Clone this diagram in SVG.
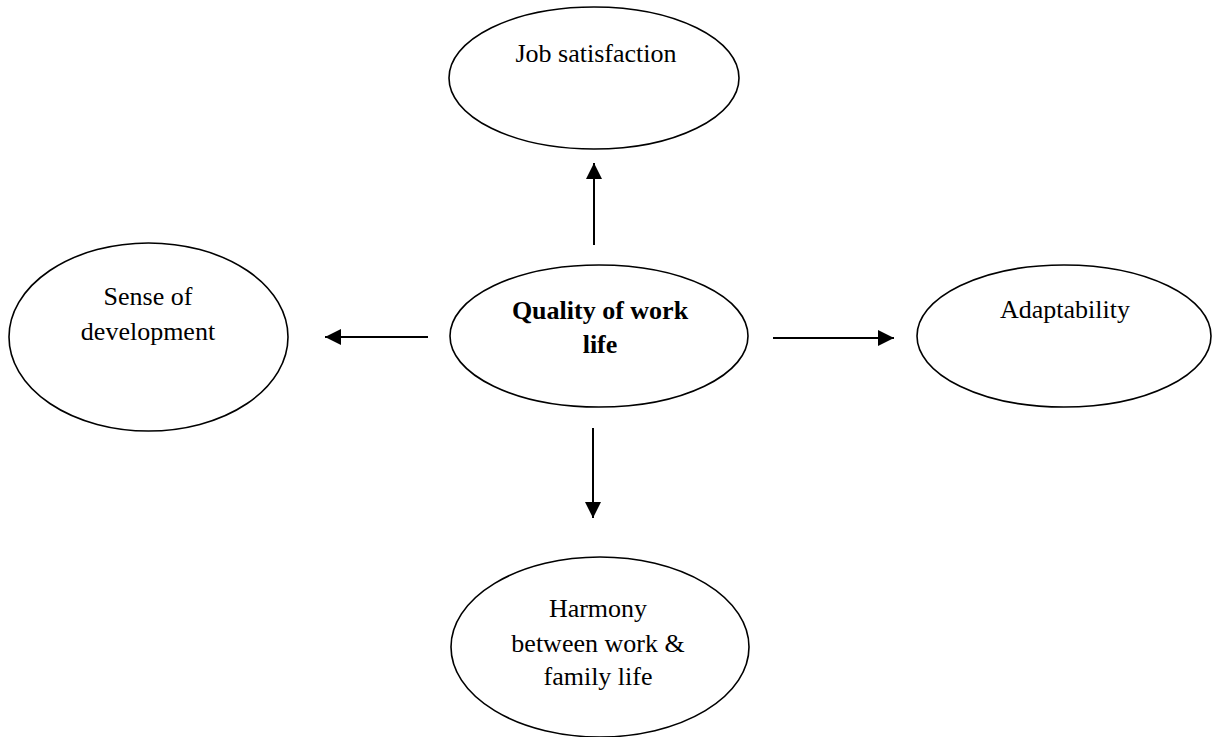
<svg xmlns="http://www.w3.org/2000/svg" width="1212" height="737" viewBox="0 0 1212 737">
<style>
.node ellipse{fill:#fff;stroke:#000;stroke-width:1.6}
text{font-family:"Liberation Serif","Times New Roman",serif;font-size:26px;fill:#000;text-anchor:middle}
.b{font-weight:bold}
.conn line{stroke:#000;stroke-width:2}
</style>
<defs>
<marker id="ah" viewBox="0 0 10 10" refX="10" refY="5" markerUnits="userSpaceOnUse" markerWidth="17" markerHeight="16" orient="auto">
<path d="M0,0 L10,5 L0,10 Z" fill="#000"/>
</marker>
</defs>
<rect width="1212" height="737" fill="#fff"/>
<g id="job-satisfaction" class="node">
<ellipse cx="594" cy="78" rx="145" ry="71"/>
<text x="596" y="62">Job satisfaction</text>
</g>
<g id="sense-of-development" class="node">
<ellipse cx="148.5" cy="337" rx="139.5" ry="94"/>
<text x="148" y="305">Sense of</text>
<text x="148" y="340">development</text>
</g>
<g id="quality-of-work-life" class="node">
<ellipse cx="599" cy="336" rx="149" ry="71"/>
<text class="b" x="600" y="319">Quality of work</text>
<text class="b" x="600" y="353">life</text>
</g>
<g id="adaptability" class="node">
<ellipse cx="1064" cy="336" rx="147" ry="71"/>
<text x="1065" y="318">Adaptability</text>
</g>
<g id="harmony" class="node">
<ellipse cx="600" cy="647" rx="149" ry="90"/>
<text x="598" y="617">Harmony</text>
<text x="598" y="652">between work &amp;</text>
<text x="598" y="685">family life</text>
</g>
<g id="connectors" class="conn">
<line x1="594" y1="245" x2="594" y2="163" marker-end="url(#ah)"/>
<line x1="428" y1="337" x2="325" y2="337" marker-end="url(#ah)"/>
<line x1="773" y1="338" x2="894" y2="338" marker-end="url(#ah)"/>
<line x1="593" y1="428" x2="593" y2="518" marker-end="url(#ah)"/>
</g>
</svg>
